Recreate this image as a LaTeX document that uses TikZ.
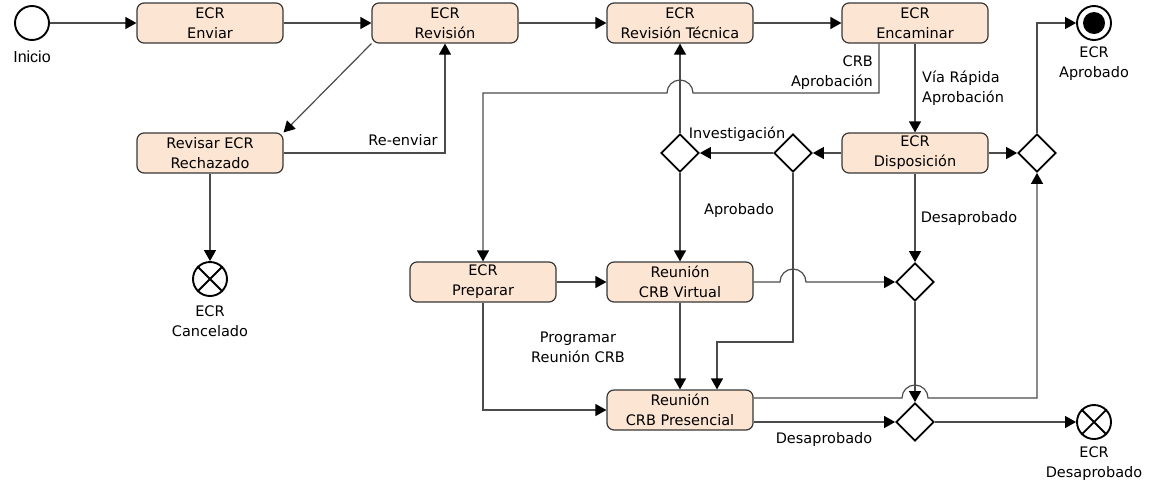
\documentclass[tikz,border=0pt]{standalone}
\usepackage{fontspec}
\setmainfont{DejaVu Sans}
\newfontfamily\inifont{Liberation Sans}
\usetikzlibrary{arrows.meta,shapes.geometric,calc}
\definecolor{peach}{RGB}{252,229,211}
\definecolor{boxline}{RGB}{55,55,55}
\definecolor{linegray}{RGB}{75,75,75}
\newcommand{\lblfont}{\fontsize{14.5}{20}\selectfont}
\tikzset{
  box/.style={draw=boxline, fill=peach, rounded corners=7pt, minimum width=146pt,
    minimum height=40pt, inner sep=0pt, align=center, line width=1.2pt, font=\lblfont},
  gate/.style={diamond, draw=black, fill=white, line width=1.8pt, minimum width=38pt,
    minimum height=38pt, inner sep=0pt},
  evt/.style={circle, draw=black, fill=white, line width=1.9pt, minimum size=34pt, inner sep=0pt},
  conn/.style={draw=linegray, line width=1.2pt, -{Triangle[length=11pt,width=12pt,color=black]}},
  lbl/.style={font=\lblfont, align=center, inner sep=0pt}
}
\begin{document}
\begin{tikzpicture}[x=1pt,y=-1pt]
\path[use as bounding box] (0,0) rectangle (1155,485);
% events
\node[evt] (ini) at (32,23) {};
\node[font=\inifont\fontsize{16}{19}\selectfont, inner sep=0pt] (inilbl) at (32,57) {Inicio};
\node[evt] (apr) at (1094,23) {};
\fill[black] (apr.center) circle (11pt);
\node[lbl] (aprlbl) at (1094,64) {ECR\\Aprobado};
\node[evt] (canc) at (210,279) {};
\draw[black, line width=1.8pt] (canc.45) -- (canc.225) (canc.135) -- (canc.315);
\node[lbl] (canclbl) at (210,321) {ECR\\Cancelado};
\node[evt] (desx) at (1094,422) {};
\draw[black, line width=1.8pt] (desx.45) -- (desx.225) (desx.135) -- (desx.315);
\node[lbl] (desxlbl) at (1094,464) {ECR\\Desaprobado};
% tasks
\node[box] (enviar) at (210,23) {ECR\\Enviar};
\node[box] (revision) at (445,23) {ECR\\Revisión};
\node[box] (revtec) at (680,23) {ECR\\Revisión Técnica};
\node[box] (encaminar) at (915,23) {ECR\\Encaminar};
\node[box] (rechazado) at (210,153) {Revisar ECR\\Rechazado};
\node[box] (disposicion) at (915,153) {ECR\\Disposición};
\node[box] (preparar) at (483,282) {ECR\\Preparar};
\node[box] (virtual) at (680,282) {Reunión\\CRB Virtual};
\node[box] (presencial) at (680,410) {Reunión\\CRB Presencial};
% gateways
\node[gate] (g1) at (680,153) {};
\node[gate] (g2) at (793,153) {};
\node[gate] (g3) at (1037,153) {};
\node[gate] (g4) at (915,282) {};
\node[gate] (g5) at (915,422) {};
% helper coordinates
\coordinate (crbY) at (0,93);
\coordinate (bendA) at (717,342);
\coordinate (upY) at (0,398);
% connectors
\draw[conn] (ini.east) -- (enviar.west);
\draw[conn] (enviar.east) -- (revision.west);
\draw[conn] (revision.east) -- (revtec.west);
\draw[conn] (revtec.east) -- (encaminar.west);
\draw[conn] (revision.south west) -- (rechazado.north east);
\draw[conn] (rechazado.east) -| (revision.south);
\draw[conn] (rechazado.south) -- (canc.north);
\draw[conn] ([xshift=-36pt]encaminar.south) |- ($(revtec.south |- crbY)+(13pt,0)$)
   arc[start angle=0,end angle=180,radius=13pt] -| (preparar.north);
\draw[conn] (encaminar.south) -- (disposicion.north);
\draw[conn] (disposicion.west) -- (g2.east);
\draw[conn] (g2.west) -- (g1.east);
\draw[conn] (g1.north) -- (revtec.south);
\draw[conn] (g1.south) -- (virtual.north);
\draw[conn] (g2.south) |- (bendA) -- ([xshift=37pt]presencial.north);
\draw[conn] (disposicion.east) -- (g3.west);
\draw[conn] (g3.north) |- (apr.west);
\draw[conn] (disposicion.south) -- (g4.north);
\draw[conn] (preparar.east) -- (virtual.west);
\draw[conn] (virtual.east) -- ($(g2.south |- virtual.east)+(-13pt,0)$)
   arc[start angle=180,end angle=0,radius=13pt] -- (g4.west);
\draw[conn] (preparar.south) |- (presencial.west);
\draw[conn] (virtual.south) -- (presencial.north);
\draw[conn] (g4.south) -- (g5.north);
\draw[conn] ([yshift=12pt]presencial.east) -- ($(g5.north |- upY)+(-13pt,0)$)
   arc[start angle=180,end angle=0,radius=13pt] -| (g3.south);
\draw[conn] ([yshift=-12pt]presencial.east) -- (g5.west);
\draw[conn] (g5.east) -- (desx.west);
% labels
\node[lbl] (lreenv) at (403,140) {Re-enviar};
\node[lbl, align=right, anchor=east] (lcrb) at (873,73) {CRB\\Aprobación};
\node[lbl, align=left, anchor=west] (lvia) at (922,88) {Vía Rápida\\Aprobación};
\node[lbl] (linv) at (737,134) {Investigación};
\node[lbl] (lapr) at (739,210) {Aprobado};
\node[lbl] (ldes1) at (969,218) {Desaprobado};
\node[lbl] (lprog) at (578,347) {Programar\\Reunión CRB};
\node[lbl] (ldes2) at (824,439) {Desaprobado};
\end{tikzpicture}
\end{document}
